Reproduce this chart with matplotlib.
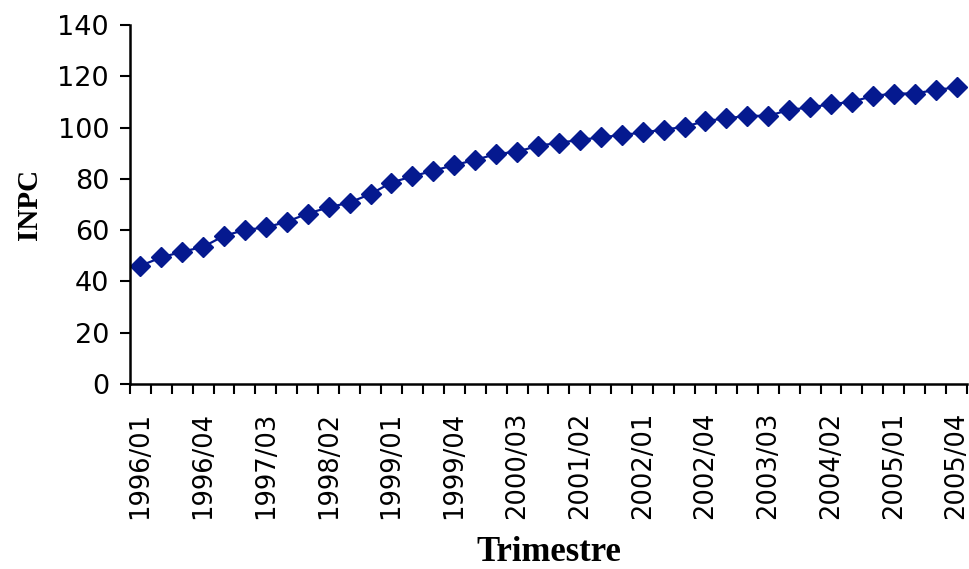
import matplotlib.pyplot as plt
import numpy as np

# quarterly INPC index, 1996/01 .. 2005/04
trimestres = [f"{a}/{q:02d}" for a in range(1996, 2006) for q in range(1, 5)]
inpc = [46.1, 49.4, 51.6, 53.5, 57.8, 60.1, 61.1, 63.3, 66.5, 68.9,
        70.8, 74.1, 78.6, 81.0, 83.2, 85.4, 87.4, 89.7, 90.6, 92.9,
        94.1, 95.2, 96.2, 97.1, 98.1, 99.2, 100.3, 102.6, 103.6, 104.6,
        104.6, 106.9, 107.9, 109.1, 110.1, 112.3, 113.3, 113.3, 114.7, 115.7]
yticks = [0, 20, 40, 60, 80, 100, 120, 140]

fig = plt.figure(figsize=(9.69, 5.69), dpi=100)
ax = fig.add_axes([0.134, 0.325, 0.864, 0.631])

# category positions centred between the boundary ticks
x = np.arange(len(inpc)) + 0.5
ax.plot(x, inpc, color='#05198F', lw=1.6, marker='D', ms=10.5,
        markerfacecolor='#05198F', markeredgecolor='#05198F', clip_on=False)

ax.set_xlim(0, len(inpc))
ax.set_ylim(0, 140)
ax.set_yticks(yticks)
ax.set_yticklabels([str(v) for v in yticks], fontsize=19.5, family='DejaVu Sans')

# labels every third quarter, ticks on category boundaries
ax.set_xticks(x[::3])
ax.set_xticklabels(trimestres[::3], rotation=90, fontsize=18.5, family='DejaVu Sans')
ax.tick_params(axis='x', which='major', length=0, pad=20)
ax.set_xticks(np.arange(len(inpc) + 1), minor=True)
ax.tick_params(axis='x', which='minor', length=7, width=1.5, direction='out')
ax.tick_params(axis='y', length=7, width=1.5, direction='out', pad=8)

for s in ['top', 'right']:
    ax.spines[s].set_visible(False)
for s in ['left', 'bottom']:
    ax.spines[s].set_linewidth(1.8)

ax.set_ylabel('INPC', fontsize=21, fontweight='bold', family='Liberation Serif', labelpad=10)
ax.set_xlabel('Trimestre', fontsize=25, fontweight='bold', family='Liberation Serif', labelpad=12)

fig.savefig('out.png', dpi=100)
